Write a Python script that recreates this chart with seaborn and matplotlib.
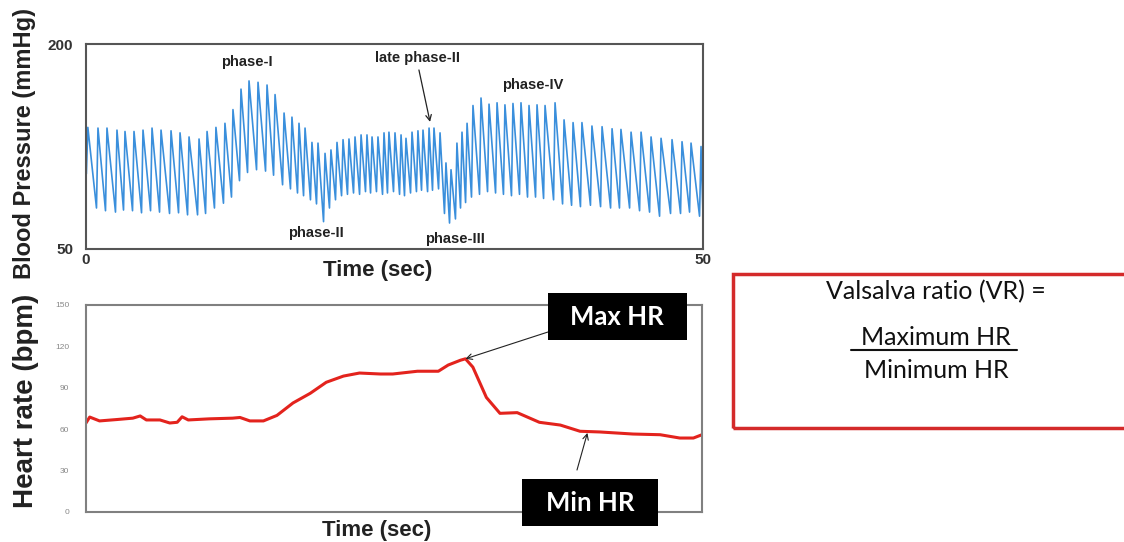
import numpy as np
import pandas as pd
import seaborn as sns
import matplotlib.pyplot as plt
from matplotlib.patches import Rectangle
from matplotlib.lines import Line2D

# blood pressure trace: per beat the peak time (s), systolic peak and the trough just before it (mmHg)
beat_time = [0.15, 0.97, 1.70, 2.51, 3.16, 3.89, 4.62, 5.35, 6.08, 6.89, 7.62, 8.35, 9.16, 9.81,
             10.53, 11.26, 11.91, 12.56, 13.21, 13.94, 14.67, 15.32, 16.05, 16.69, 17.26, 17.75,
             18.31, 18.80, 19.37, 19.85, 20.34, 20.83, 21.31, 21.80, 22.29, 22.77, 23.18, 23.66,
             24.15, 24.55, 25.04, 25.53, 25.93, 26.42, 26.90, 27.31, 27.80, 28.20, 28.69, 29.17,
             29.58, 30.06, 30.47, 30.88, 31.36, 32.01, 32.66, 33.31, 33.95, 34.60, 35.25, 35.90,
             36.55, 37.20, 38.01, 38.74, 39.47, 40.19, 41.00, 41.82, 42.63, 43.35, 44.17, 44.98,
             45.79, 46.60, 47.49, 48.30, 49.03, 49.84]
systolic = [139, 138.5, 138.5, 137, 136, 136, 137, 138.5, 137, 136.5, 135, 132, 130.5, 136, 139, 142, 152,
            167, 173, 172, 170, 163, 149.5, 146.5, 142,
            138.5, 128, 127.5, 120, 122.5, 128, 130,
            130.5, 132, 133.5, 133.5, 132, 132, 135,
            135.5, 135, 133.5, 131, 135.5, 136.5, 137, 138.5, 138.5, 135,
            113, 108, 127.5, 135.5,
            142, 155, 160.5, 156, 157, 155.5, 156.5, 157, 155, 155.5, 155, 157,
            144.5, 142.5, 142.5, 140, 139.5, 138, 137.5, 135.5, 135.5, 132, 131, 130, 128.5, 127.5, 125]
diastolic = [105, 80, 78, 77, 78.5, 78, 76.5, 78, 77, 76, 76.5, 75, 75, 76, 80, 83.5, 88,
             100, 106, 108, 107, 104, 97, 94, 91,
             89, 86, 83, 70, 80, 86, 89,
             90, 91, 90, 92, 91, 92, 90,
             91, 92, 90, 89, 91, 92, 93, 92, 93, 94,
             76, 69, 72, 80,
             84, 88, 90, 92, 91, 90, 89, 90, 88, 88, 87, 86,
             83, 82, 81, 82, 81, 80, 80, 80, 78, 77, 74, 76, 76, 77, 74]
bp_end_time = 50
bp_end_value = 75

# heart rate (bpm)
hr_time = [0, 0.3, 1.1, 2.5, 3.8, 4.4, 4.9, 6.0, 6.8, 7.4, 7.8, 8.3, 10.0, 11.9, 12.5, 13.3, 14.4,
           15.5, 16.8, 18.2, 19.5, 20.9, 22.2, 23.9, 24.9, 26.9, 28.6, 29.4, 30.4, 30.8, 31.4,
           32.5, 33.6, 35.0, 36.8, 38.5, 40.1, 41.7, 44.4, 46.6, 48.2, 49.3, 50]
hr_value = [64.5, 68.8, 66, 67, 68, 69.6, 66.7, 66.7, 64.5, 65, 69, 66.7, 67.5, 68, 68.5, 66, 66,
            70, 79, 86, 94, 98.5, 100.7, 100, 100, 102, 102, 106.5, 110, 111, 105,
            83, 71.5, 72, 65, 63, 58.5, 58, 56.5, 56, 53.6, 53.6, 56]

bp_ticks = [50, 80, 110, 140, 170, 200]
bp_ticklabels = ['50', '', '', '', '', '200']
hr_ticks = [0, 30, 60, 90, 120, 150]

# zigzag: trough then peak for each beat
t_pts, bp_pts = [], []
for t, s, d in zip(beat_time, systolic, diastolic):
    t_pts += [t - 0.12, t]
    bp_pts += [d, s]
t_pts.append(bp_end_time)
bp_pts.append(bp_end_value)
bp_df = pd.DataFrame({'time': t_pts, 'bp': bp_pts})
hr_df = pd.DataFrame({'time': hr_time, 'hr': hr_value})

sns.set_style('white')
plt.rcParams['font.family'] = ['Liberation Sans', 'DejaVu Sans']

fig = plt.figure(figsize=(11.24, 5.42), dpi=100)
W, H = 1124, 542
ax1 = fig.add_axes([86 / W, 1 - 249 / H, 617 / W, 205 / H])
ax2 = fig.add_axes([86 / W, 1 - 512 / H, 616 / W, 207 / H])

# blood pressure panel
sns.lineplot(data=bp_df, x='time', y='bp', ax=ax1, color='#3a8fdc', lw=1.2, sort=False)
ax1.set_xlim(0, 50)
ax1.set_ylim(50, 200)
ax1.set_xticks([0, 50])
ax1.set_xticklabels(['0', '50'], fontsize=11, fontweight='bold', color='#333')
ax1.set_yticks(bp_ticks)
ax1.set_yticklabels(bp_ticklabels, fontsize=11, fontweight='bold', color='#333')
ax1.tick_params(axis='x', length=0, pad=3)
ax1.tick_params(axis='y', direction='in', length=4, color='#666', pad=9)
for sp in ax1.spines.values():
    sp.set_color('#555')
    sp.set_linewidth(1.5)
ax1.set_xlabel('Time (sec)', fontsize=16, fontweight='bold', color='#222')
ax1.xaxis.set_label_coords(0.472, -0.052)
ax1.set_ylabel('Blood Pressure (mmHg)', fontsize=17, fontweight='bold', color='#222')
ax1.yaxis.set_label_coords(-0.081, 0.517)

for s, x, y in [('phase-I', 13.0, 187), ('phase-II', 18.6, 62), ('late phase-II', 26.9, 190),
                ('phase-III', 29.9, 57), ('phase-IV', 36.2, 170)]:
    ax1.text(x, y, s, ha='center', va='center', fontsize=10.5, fontweight='bold', color='#222')
ax1.annotate('', xy=(27.88, 143), xytext=(26.98, 181),
             arrowprops=dict(arrowstyle='->', color='#222', lw=0.9, shrinkA=0, shrinkB=0))

# heart rate panel
sns.lineplot(data=hr_df, x='time', y='hr', ax=ax2, color='#e3231d', lw=2.2)
ax2.set_xlim(0, 50)
ax2.set_ylim(0, 150)
ax2.set_xticks([])
ax2.set_yticks(hr_ticks)
ax2.set_yticklabels([str(v) for v in hr_ticks], fontsize=6, color='#888')
ax2.tick_params(axis='y', length=0, pad=12)
for sp in ax2.spines.values():
    sp.set_color('#808080')
    sp.set_linewidth(1.5)
ax2.set_xlabel('Time (sec)', fontsize=16, fontweight='bold', color='#222')
ax2.xaxis.set_label_coords(0.472, -0.04)
ax2.set_ylabel('Heart rate (bpm)', fontsize=20, fontweight='bold', color='#222')
ax2.yaxis.set_label_coords(-0.076, 0.536)

# max / min HR callouts
i_max = int(np.argmax(hr_value))
ax2.annotate('', xy=(hr_time[i_max], hr_value[i_max]), xycoords='data',
             xytext=(548, H - 332), textcoords='figure pixels',
             arrowprops=dict(arrowstyle='->', color='#222', lw=0.8, shrinkA=0, shrinkB=0))
t_min = 40.7
ax2.annotate('', xy=(t_min, np.interp(t_min, hr_time, hr_value) - 1), xycoords='data',
             xytext=(577, H - 470), textcoords='figure pixels',
             arrowprops=dict(arrowstyle='->', color='#222', lw=0.8, shrinkA=0, shrinkB=0))

fig.add_artist(Rectangle((548 / W, 1 - 340 / H), 139 / W, 47 / H,
                         transform=fig.transFigure, fc='black', ec='none'))
fig.text(617 / W, 1 - 317 / H, 'Max HR', ha='center', va='center', color='white',
         fontsize=18.5, fontweight='bold', family=['Lato', 'DejaVu Sans'])
fig.add_artist(Rectangle((522 / W, 1 - 526 / H), 136 / W, 47 / H,
                         transform=fig.transFigure, fc='black', ec='none'))
fig.text(590 / W, 1 - 503 / H, 'Min HR', ha='center', va='center', color='white',
         fontsize=18.5, fontweight='bold', family=['Lato', 'DejaVu Sans'])

# Valsalva ratio box
fig.add_artist(Rectangle((733 / W, 1 - 428 / H), 0.4, 154 / H, transform=fig.transFigure,
                         fill=False, ec='#d42a2a', lw=2.5))
for s, y in [('Valsalva ratio (VR) =', 299), ('Maximum HR', 345), ('Minimum HR', 378)]:
    fig.text(936 / W, 1 - y / H, s, ha='center', va='baseline', color='#111',
             fontsize=18, family=['Lato', 'DejaVu Sans'])
fig.add_artist(Line2D([851 / W, 1017 / W], [1 - 350 / H] * 2, transform=fig.transFigure,
                      color='#111', lw=1.5))

fig.savefig('out.png', dpi=100)
